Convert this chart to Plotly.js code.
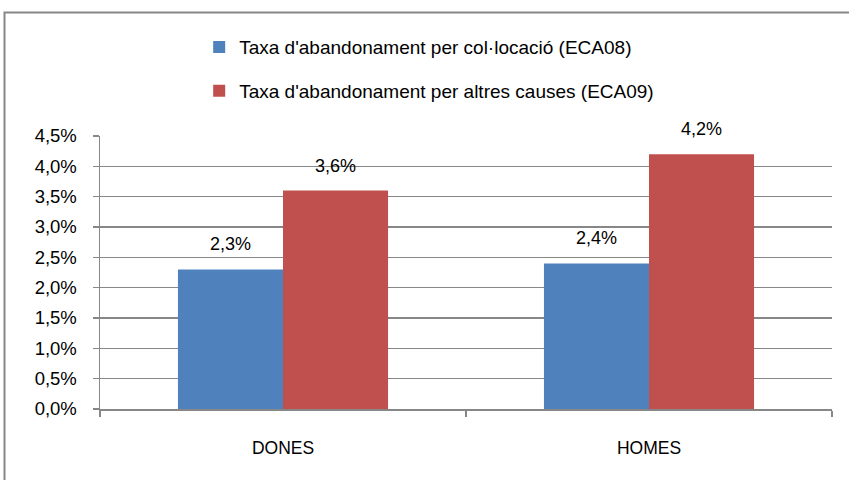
<!DOCTYPE html>
<html>
<head>
<meta charset="utf-8">
<script src="https://cdn.plot.ly/plotly-3.0.1.min.js"></script>
<style>html,body{margin:0;padding:0;background:#fff;}#chart{width:849px;height:480px;}</style>
</head>
<body>
<div id="chart"></div>
<script>
const categories = ['DONES', 'HOMES'];
const seriesNames = ["Taxa d'abandonament per col·locació (ECA08)", "Taxa d'abandonament per altres causes (ECA09)"];
const colocacio = [0.023, 0.024];
const altresCauses = [0.036, 0.042];
const yTicks = [0, 0.005, 0.01, 0.015, 0.02, 0.025, 0.03, 0.035, 0.04, 0.045];

const colors = ['#4F81BD', '#C0504D'];
const gridColor = '#878787';
const font = 'Liberation Sans, Arial, sans-serif';
const fmt = v => (v * 100).toFixed(1).replace('.', ',') + '%';

const series = [colocacio, altresCauses];
const traces = series.map((vals, i) => ({
  type: 'bar',
  x: categories,
  y: vals,
  name: seriesNames[i],
  legendgroup: 'g' + i,
  marker: {color: colors[i], line: {width: 0}},
  hoverinfo: 'skip'
}));

const plotW = 849 - 100 - 17;
const bargap = 0.426;
const barPx = (plotW / categories.length) * (1 - bargap) / series.length;

const annotations = [];
series.forEach((vals, i) => {
  vals.forEach((v, j) => {
    annotations.push({
      x: categories[j], y: v, xref: 'x', yref: 'y',
      xshift: (i - (series.length - 1) / 2) * barPx,
      yshift: 25,
      text: fmt(v), showarrow: false,
      xanchor: 'center', yanchor: 'middle',
      font: {family: font, size: 18, color: '#000'}
    });
  });
});

const layout = {
  width: 849, height: 480,
  margin: {l: 100, r: 17, t: 136, b: 71},
  paper_bgcolor: '#fff', plot_bgcolor: '#fff',
  separators: ', ',
  font: {family: font, size: 17, color: '#000'},
  barmode: 'group', bargap: bargap, bargroupgap: 0,
  showlegend: true,
  legend: {
    x: 0.1355, xanchor: 'left', xref: 'paper',
    y: 1.395, yanchor: 'top', yref: 'paper',
    orientation: 'v', traceorder: 'grouped', tracegroupgap: 16,
    font: {family: font, size: 19, color: '#000'},
    bgcolor: 'rgba(0,0,0,0)'
  },
  xaxis: {
    type: 'category',
    showline: true, linecolor: gridColor, linewidth: 1.5,
    ticks: 'outside', tickson: 'boundaries', ticklen: 6, tickcolor: gridColor, tickwidth: 1.5,
    ticklabelstandoff: 22,
    showgrid: false, zeroline: false,
    tickfont: {family: font, size: 17.5, color: '#000'}
  },
  yaxis: {
    range: [0, 0.045], tickvals: yTicks, tickformat: '.1%',
    showline: true, linecolor: gridColor, linewidth: 1.5,
    ticks: 'outside', ticklen: 6, tickcolor: gridColor, tickwidth: 1.5,
    ticklabelstandoff: 12,
    showgrid: true, gridcolor: gridColor, gridwidth: 1.5,
    zeroline: false,
    tickfont: {family: font, size: 18.5, color: '#000'}
  },
  annotations: annotations,
  shapes: [{
    type: 'rect', xref: 'paper', yref: 'paper',
    x0: (4.5 - 100) / plotW, x1: (855 - 100) / plotW,
    y0: (409 - 490) / 273, y1: (409 - 12.5) / 273,
    line: {color: gridColor, width: 2}, fillcolor: 'rgba(0,0,0,0)', layer: 'above'
  }]
};

Plotly.newPlot('chart', traces, layout, {displayModeBar: false, staticPlot: true});
</script>
</body>
</html>
